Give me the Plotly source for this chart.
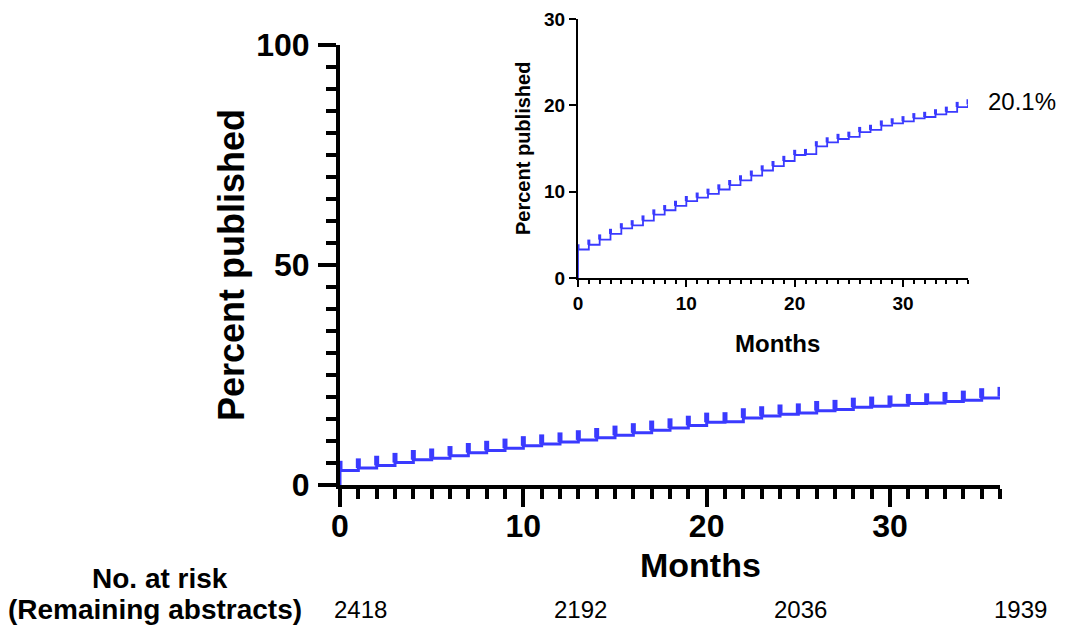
import plotly.graph_objects as go

# ---- data ----
months = list(range(37))
pct_published = [3.3, 3.85, 4.45, 5.1, 5.75, 6.1, 6.65, 7.35, 7.85, 8.35,
                 8.9, 9.3, 9.75, 10.25, 10.75, 11.3, 11.85, 12.45, 12.95, 13.55,
                 14.25, 14.35, 15.25, 15.7, 16.1, 16.35, 16.9, 17.15, 17.65, 17.9,
                 18.15, 18.5, 18.65, 18.95, 19.25, 19.8, 20.1]
risk_months = [0, 12, 24, 36]
at_risk = [2418, 2192, 2036, 1939]
final_label = "20.1%"

# ---- styling helpers ----
W, H = 1067, 626
OFF = 8  # page body margin offset


def px(x):
    return (x - OFF) / W


def py(y):
    return 1 - (y - OFF) / H


BLUE = "rgb(58,58,255)"
FONT = "Liberation Sans, Arial, sans-serif"


def step_xy(m, p):
    return [m[0]] + list(m), [0] + list(p)


def censor_xy(m, p, h):
    xs, ys = [], []
    for a, b in zip(m, p):
        xs += [a, a, None]
        ys += [b, b + h, None]
    return xs, ys


fig = go.Figure()

sx, sy = step_xy(months, pct_published)
fig.add_trace(go.Scatter(x=sx, y=sy, mode="lines", line=dict(color=BLUE, width=3, shape="hv"),
                         xaxis="x", yaxis="y", showlegend=False, hoverinfo="skip"))
cx, cy = censor_xy(months, pct_published, 2.2)
fig.add_trace(go.Scatter(x=cx, y=cy, mode="lines", line=dict(color=BLUE, width=5),
                         xaxis="x", yaxis="y", showlegend=False, hoverinfo="skip"))

fig.add_trace(go.Scatter(x=sx, y=sy, mode="lines", line=dict(color=BLUE, width=1.8, shape="hv"),
                         xaxis="x2", yaxis="y2", showlegend=False, hoverinfo="skip"))
cx2, cy2 = censor_xy(months, pct_published, 0.6)
fig.add_trace(go.Scatter(x=cx2, y=cy2, mode="lines", line=dict(color=BLUE, width=3),
                         xaxis="x2", yaxis="y2", showlegend=False, hoverinfo="skip"))

main_tick_font = dict(family=FONT, size=32, color="black", weight="bold")
inset_tick_font = dict(family=FONT, size=19, color="black", weight="bold")

common = dict(showgrid=False, zeroline=False, automargin=False, showline=True,
              linecolor="black", ticks="outside", tickcolor="black", fixedrange=True)

fig.update_layout(
    width=W, height=H, autosize=False,
    margin=dict(l=0, r=0, t=0, b=0, pad=0, autoexpand=False),
    showlegend=False,
    paper_bgcolor="white", plot_bgcolor="rgba(0,0,0,0)",
    xaxis=dict(domain=[px(340), px(1000)], range=[0, 36], anchor="y",
               tick0=0, dtick=10, ticklen=18, tickwidth=4, linewidth=4,
               tickfont=main_tick_font, ticklabelstandoff=-8,
               minor=dict(tick0=0, dtick=1, ticks="outside", ticklen=10, tickwidth=4,
                          tickcolor="black", showgrid=False), **common),
    yaxis=dict(domain=[py(485), py(45)], range=[0, 100], anchor="x",
               tick0=0, dtick=50, ticklen=18, tickwidth=4, linewidth=4,
               tickfont=main_tick_font, ticklabelstandoff=2,
               minor=dict(tick0=0, dtick=5, ticks="outside", ticklen=10, tickwidth=4,
                          tickcolor="black", showgrid=False), **common),
    xaxis2=dict(domain=[px(578), px(968)], range=[0, 36], anchor="y2",
                tick0=0, dtick=10, ticklen=7, tickwidth=2, linewidth=2,
                tickfont=inset_tick_font,
                minor=dict(tick0=0, dtick=1, ticks="outside", ticklen=4, tickwidth=2,
                           tickcolor="black", showgrid=False), **common),
    yaxis2=dict(domain=[py(278), py(19)], range=[0, 30], anchor="x2",
                tick0=0, dtick=10, ticklen=7, tickwidth=2, linewidth=2,
                tickfont=inset_tick_font, **common),
)

ann = []
ann.append(dict(text="<b>Percent published</b>", x=px(232), y=py(265), xref="paper", yref="paper",
                showarrow=False, textangle=-90, font=dict(family=FONT, size=36, color="black"),
                xanchor="center", yanchor="middle"))
ann.append(dict(text="<b>Months</b>", x=px(700), y=py(565), xref="paper", yref="paper",
                showarrow=False, font=dict(family=FONT, size=34, color="black"),
                xanchor="center", yanchor="middle"))
ann.append(dict(text="<b>Percent published</b>", x=px(523), y=py(149), xref="paper", yref="paper",
                showarrow=False, textangle=-90, font=dict(family=FONT, size=20, color="black"),
                xanchor="center", yanchor="middle"))
ann.append(dict(text="<b>Months</b>", x=px(777), y=py(343), xref="paper", yref="paper",
                showarrow=False, font=dict(family=FONT, size=24, color="black"),
                xanchor="center", yanchor="middle"))
ann.append(dict(text=final_label, x=months[-1], y=pct_published[-1], xref="x2", yref="y2",
                showarrow=False, font=dict(family=FONT, size=24, color="black"),
                xanchor="left", yanchor="middle", xshift=18, yshift=3))
ann.append(dict(text="<b>No. at risk</b>", x=px(160), y=py(578), xref="paper", yref="paper",
                showarrow=False, font=dict(family=FONT, size=28, color="black"),
                xanchor="center", yanchor="middle"))
ann.append(dict(text="<b>(Remaining abstracts)</b>", x=px(155), y=py(609), xref="paper", yref="paper",
                showarrow=False, font=dict(family=FONT, size=28, color="black"),
                xanchor="center", yanchor="middle"))
for m, n in zip(risk_months, at_risk):
    ann.append(dict(text=str(n), x=m, y=py(609), xref="x", yref="paper",
                    showarrow=False, font=dict(family=FONT, size=24, color="black"),
                    xanchor="center", yanchor="middle", xshift=20))
fig.update_layout(annotations=ann)

fig.write_html("out.html")
